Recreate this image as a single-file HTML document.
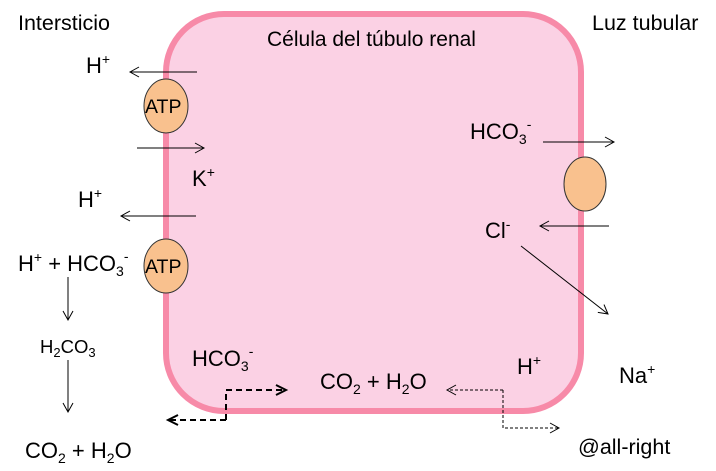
<!DOCTYPE html>
<html><head><style>body{margin:0;background:#fff}svg{display:block}text{font-family:"Liberation Sans",sans-serif;fill:#000}</style></head>
<body>
<svg width="716" height="471" viewBox="0 0 716 471" xmlns="http://www.w3.org/2000/svg">
<defs>
<marker id="a" markerWidth="12" markerHeight="12" refX="10" refY="6" orient="auto" markerUnits="userSpaceOnUse"><path d="M1,1 L10,6 L1,11" fill="none" stroke="#000" stroke-width="1"/></marker>
<marker id="b" markerWidth="14" markerHeight="14" refX="11" refY="7" orient="auto" markerUnits="userSpaceOnUse"><path d="M1,2 L11,7 L1,12" fill="none" stroke="#000" stroke-width="2"/></marker>
</defs>
<rect x="166" y="14" width="415" height="397" rx="58" fill="#fbd1e4" stroke="#f78aa8" stroke-width="6"/>
<ellipse cx="166" cy="106" rx="22" ry="27" fill="#f9c18e" stroke="#333" stroke-width="1"/>
<ellipse cx="166" cy="266" rx="22" ry="27" fill="#f9c18e" stroke="#333" stroke-width="1"/>
<ellipse cx="585" cy="184" rx="21" ry="27" fill="#f9c18e" stroke="#333" stroke-width="1"/>
<text x="145" y="113" font-size="19.5">ATP</text>
<text x="145" y="273" font-size="19.5">ATP</text>
<text x="18" y="30" font-size="21.5">Intersticio</text>
<text x="267" y="46" font-size="21">Célula del túbulo renal</text>
<text x="592" y="30" font-size="21.5">Luz tubular</text>
<g stroke="#000" stroke-width="1" fill="none">
<line x1="197" y1="72" x2="130" y2="72" marker-end="url(#a)"/>
<line x1="137" y1="148" x2="204" y2="148" marker-end="url(#a)"/>
<line x1="196" y1="216" x2="121" y2="216" marker-end="url(#a)"/>
<line x1="68" y1="277" x2="68" y2="320" marker-end="url(#a)"/>
<line x1="68" y1="360" x2="68" y2="412" marker-end="url(#a)"/>
<line x1="543" y1="142" x2="614" y2="142" marker-end="url(#a)"/>
<line x1="609" y1="226" x2="540" y2="226" marker-end="url(#a)"/>
<line x1="521" y1="246" x2="608" y2="314" marker-end="url(#a)"/>
<path d="M503,390 H447" stroke-dasharray="3,2" marker-end="url(#a)"/>
<path d="M503,390 V428 H559" stroke-dasharray="3,2" marker-end="url(#a)"/>
<path d="M226,420 V390 H286" stroke-width="2" stroke-dasharray="6,4" marker-end="url(#b)"/>
<path d="M226,420 H168" stroke-width="2" stroke-dasharray="6,4" marker-end="url(#b)"/>
</g>
<g font-size="22">
<text x="86" y="73">H<tspan font-size="14" dy="-9">+</tspan></text>
<text x="192" y="186">K<tspan font-size="14" dy="-9">+</tspan></text>
<text x="78" y="207">H<tspan font-size="14" dy="-9">+</tspan></text>
<text x="18" y="271">H<tspan font-size="14" dy="-9">+</tspan><tspan dy="9"> + HCO</tspan><tspan font-size="14" dy="5">3</tspan><tspan font-size="14" dy="-15">-</tspan></text>
<text x="40" y="353" font-size="18.5">H<tspan font-size="13" dy="4">2</tspan><tspan dy="-4">CO</tspan><tspan font-size="13" dy="4">3</tspan></text>
<text x="25" y="458">CO<tspan font-size="14" dy="5">2</tspan><tspan dy="-5"> + H</tspan><tspan font-size="14" dy="5">2</tspan><tspan dy="-5">O</tspan></text>
<text x="192" y="366">HCO<tspan font-size="14" dy="5">3</tspan><tspan font-size="14" dy="-15">-</tspan></text>
<text x="320" y="389">CO<tspan font-size="14" dy="5">2</tspan><tspan dy="-5"> + H</tspan><tspan font-size="14" dy="5">2</tspan><tspan dy="-5">O</tspan></text>
<text x="517" y="374">H<tspan font-size="14" dy="-9">+</tspan></text>
<text x="619" y="383">Na<tspan font-size="14" dy="-9">+</tspan></text>
<text x="470" y="139">HCO<tspan font-size="14" dy="5">3</tspan><tspan font-size="14" dy="-15">-</tspan></text>
<text x="485" y="238">Cl<tspan font-size="14" dy="-9">-</tspan></text>
<text x="578" y="454" font-size="21.5">@all-right</text>
</g>
</svg>
</body></html>
